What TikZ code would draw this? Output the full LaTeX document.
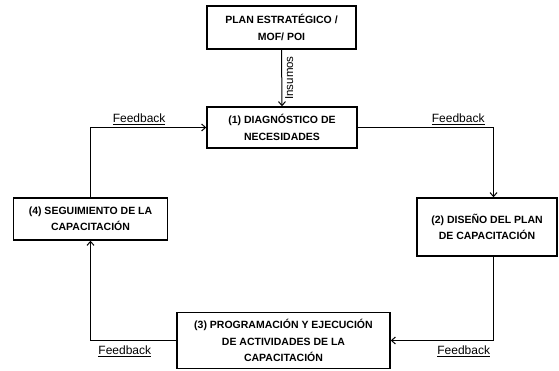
\documentclass[tikz,border=0pt]{standalone}
\usepackage{fontspec}
\setmainfont{Liberation Sans}
\usetikzlibrary{arrows.meta}
\begin{document}
\begin{tikzpicture}[x=1pt,y=1pt,
  box/.style={draw=black, line width=1.4pt, fill=white, align=center, inner sep=2pt, font=\bfseries\fontsize{10.5}{16.5}\selectfont},
  conn/.style={draw=black, line width=1pt, -{Straight Barb[length=4pt,width=7pt]}},
  fb/.style={font=\fontsize{12}{14}\selectfont, inner sep=1pt},
  side/.style={font=\fontsize{11.5}{13}\selectfont, inner sep=1pt}]
\useasboundingbox (0,0) rectangle (559,371);
\node[box, minimum width=149, minimum height=43] (plan) at (281.5,343.5) {PLAN ESTRATÉGICO /\\MOF/ POI};
\node[box, minimum width=150, minimum height=41] (diag) at (282,243.5) {(1) DIAGNÓSTICO DE\\NECESIDADES};
\node[box, minimum width=140, minimum height=58] (dis) at (487,144) {(2) DISEÑO DEL PLAN\\DE CAPACITACIÓN};
\node[box, minimum width=213, minimum height=56] (prog) at (283.5,30.5) {(3) PROGRAMACIÓN Y EJECUCIÓN\\DE ACTIVIDADES DE LA\\CAPACITACIÓN};
\node[box, minimum width=154, minimum height=42] (seg) at (90.5,152) {(4) SEGUIMIENTO DE LA\\CAPACITACIÓN};
\coordinate (c1) at (493.5,243.5);
\coordinate (c2) at (493.5,30.5);
\coordinate (c3) at (90.5,30.5);
\draw[conn] (plan.south) -- node[side, rotate=90, anchor=north, yshift=-2pt] {Insumos} (diag.north);
\draw[conn] (seg.north) |- node[fb, pos=0.71, above=1pt] {\underline{Feedback}} (diag.west);
\draw[conn] (diag.east) -- node[fb, pos=0.74, above=1pt] {\underline{Feedback}} (c1) -- (c1 |- dis.north);
\draw[conn] (c1 |- dis.south) -- (c2) -- node[fb, pos=0.29, below=4pt] {\underline{Feedback}} (c2 -| prog.east);
\draw[conn] (prog.west) -- node[fb, pos=0.6, below=4pt] {\underline{Feedback}} (c3) -- (seg.south);
\end{tikzpicture}
\end{document}
